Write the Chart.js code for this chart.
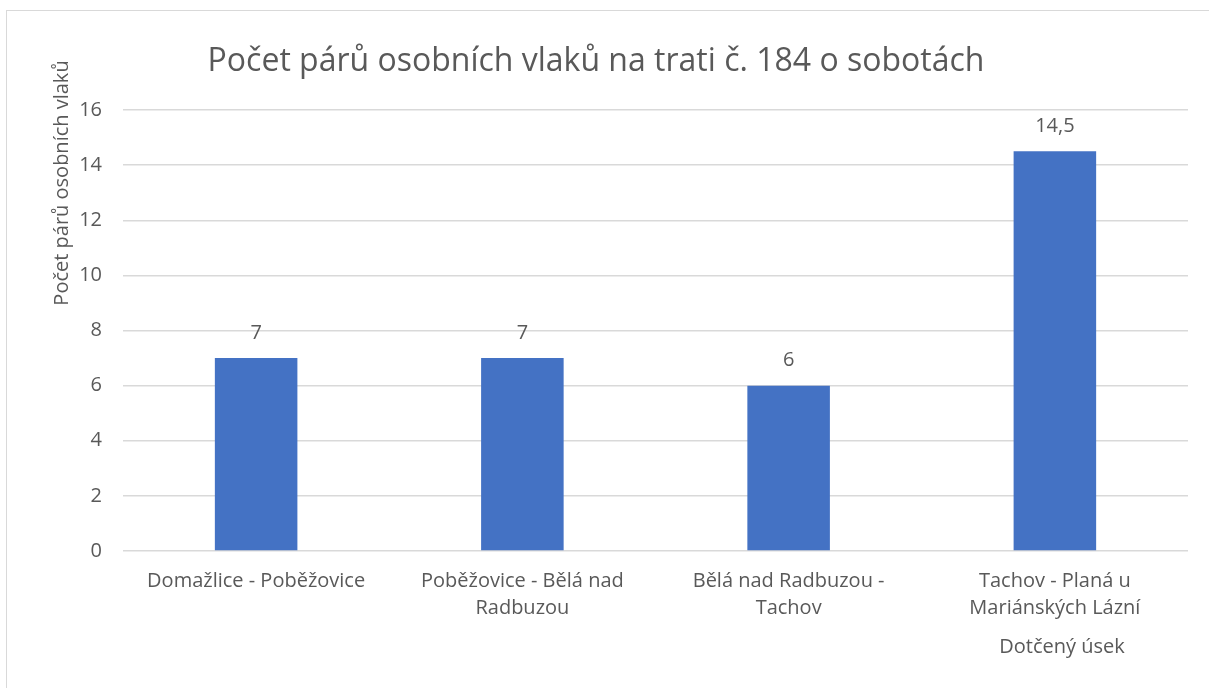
<!DOCTYPE html>
<html><head><meta charset="utf-8">
<script src="https://cdn.jsdelivr.net/npm/chart.js@4"></script>
<style>
html,body{margin:0;padding:0;background:#fff;}
#wrap{position:relative;width:1209px;height:688px;overflow:hidden;}
#frame{position:absolute;left:6px;top:10px;width:1210px;height:690px;border:1.5px solid #d9d9d9;box-sizing:border-box;}
canvas{position:absolute;left:0;top:0;}
</style></head><body>
<div id="wrap"><div id="frame"></div><canvas id="c" width="1209" height="688"></canvas></div>
<script>
const categories = [
  ["Domažlice - Poběžovice"],
  ["Poběžovice - Bělá nad", "Radbuzou"],
  ["Bělá nad Radbuzou -", "Tachov"],
  ["Tachov - Planá u", "Mariánských Lázní"]
];
const values = [7, 7, 6, 14.5];
const yTicks = [0, 2, 4, 6, 8, 10, 12, 14, 16];
const chartTitle = "Počet párů osobních vlaků na trati č. 184 o sobotách";
const yTitle = "Počet párů osobních vlaků";
const xTitle = "Dotčený úsek";

const FONT = "'Open Sans', sans-serif";
const GRAY = "#595959";

const textPlugin = {
  id: 'texts',
  afterDatasetsDraw(chart) {
    const ctx = chart.ctx;
    ctx.save();
    ctx.fillStyle = GRAY;
    ctx.font = "20px " + FONT;
    ctx.textAlign = "center";
    ctx.textBaseline = "middle";
    const meta = chart.getDatasetMeta(0);
    meta.data.forEach((bar, i) => {
      ctx.fillText(String(values[i]).replace('.', ','), bar.x, bar.y - 25);
    });
    ctx.font = "32px " + FONT;
    ctx.fillText(chartTitle, 596, 62);
    ctx.font = "20px " + FONT;
    ctx.fillText(xTitle, 1062, 647);
    ctx.translate(62, 183);
    ctx.rotate(-Math.PI / 2);
    ctx.fillText(yTitle, 0, 0);
    ctx.restore();
  }
};

new Chart(document.getElementById('c'), {
  type: 'bar',
  data: {
    labels: categories,
    datasets: [{
      data: values,
      backgroundColor: '#4472C4',
      barPercentage: 0.62,
      categoryPercentage: 0.5
    }]
  },
  options: {
    responsive: false,
    animation: false,
    layout: { padding: { left: 0, top: 110, right: 21, bottom: 0 } },
    plugins: { legend: { display: false }, tooltip: { enabled: false } },
    scales: {
      x: {
        grid: { display: false, drawTicks: false },
        border: { display: false },
        ticks: { color: GRAY, font: { family: FONT, size: 20, lineHeight: 1.35 }, padding: 17, maxRotation: 0, autoSkip: false },
        afterFit(s) { s.height = 137; }
      },
      y: {
        min: 0, max: 16,
        afterBuildTicks(s) { s.ticks = yTicks.map(v => ({ value: v })); },
        grid: { color: '#d9d9d9', lineWidth: 1.5, drawTicks: false },
        border: { display: false },
        ticks: { color: GRAY, font: { family: FONT, size: 20 }, padding: 21 },
        afterFit(s) { s.width = 123; }
      }
    }
  },
  plugins: [textPlugin]
});
</script>
</body></html>
